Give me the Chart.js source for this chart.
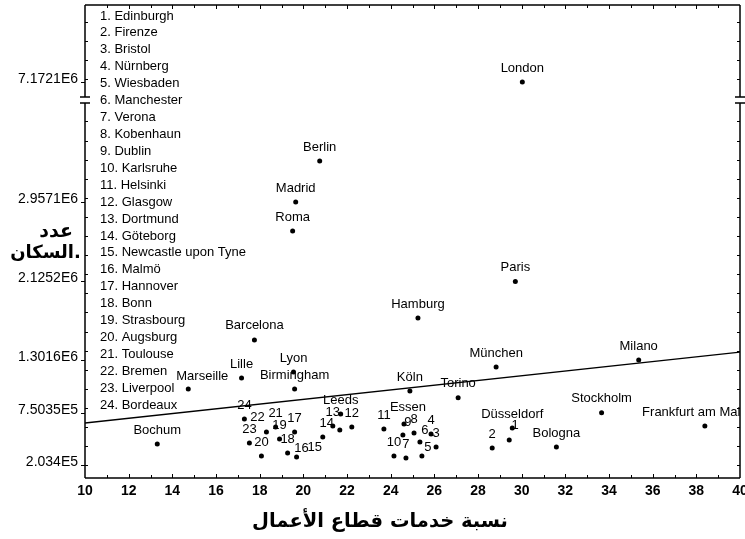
<!DOCTYPE html>
<html>
<head>
<meta charset="utf-8">
<script src="https://cdn.jsdelivr.net/npm/chart.js@4.4.1/dist/chart.umd.min.js"></script>
<style>
  html, body { margin: 0; padding: 0; background: #fff; }
  #wrap { width: 745px; height: 539px; }
</style>
</head>
<body>
<div id="wrap"><canvas id="cityChart"></canvas></div>
<script>
// cities shown by number (key in the top left corner)
const listedCities = ['Edinburgh', 'Firenze', 'Bristol', 'Nürnberg', 'Wiesbaden', 'Manchester', 'Verona', 'Kobenhaun',
    'Dublin', 'Karlsruhe', 'Helsinki', 'Glasgow', 'Dortmund', 'Göteborg', 'Newcastle upon Tyne', 'Malmö',
    'Hannover', 'Bonn', 'Strasbourg', 'Augsburg', 'Toulouse', 'Bremen', 'Liverpool', 'Bordeaux'];
const listedShare = [29.43, 28.65, 26.08, 25.85, 25.43, 25.34, 24.70, 25.07, 24.56, 24.15, 23.69, 22.22,
    21.35, 21.67, 20.89, 19.69, 19.60, 19.28, 18.91, 18.08, 18.73, 18.31, 17.53, 17.30];
const listedPopulation = [465000, 381000, 392000, 528000, 297000, 444000, 276000, 538000, 517000, 297000, 580000, 601000,
    612000, 570000, 496000, 287000, 549000, 329000, 475000, 297000, 601000, 549000, 434000, 685000];

// cities labelled with their name
const namedCities = ['London', 'Berlin', 'Madrid', 'Roma', 'Paris', 'Hamburg', 'Barcelona', 'Lille', 'Marseille', 'Lyon',
    'Birmingham', 'München', 'Köln', 'Torino', 'Leeds', 'Essen', 'Milano', 'Stockholm', 'Frankfurt am Main',
    'Bologna', 'Düsseldorf', 'Bochum'];
const namedShare = [30.03, 20.75, 19.65, 19.51, 29.71, 25.25, 17.76, 17.17, 14.73, 19.55,
    19.60, 28.83, 24.88, 27.09, 21.71, 24.61, 35.36, 33.66, 38.39,
    31.59, 29.57, 13.31];
const namedPopulation = [7172100, 3386000, 2957100, 2653000, 2125200, 1742000, 1513000, 1114000, 999000, 1177000,
    999000, 1229000, 978000, 906000, 737000, 632000, 1301600, 750350, 612000,
    392000, 591000, 423000];

// fitted line
const fitShare = [10, 40];
const fitPopulation = [643000, 1386000];

const yTickValues = [203400, 750350, 1301600, 2125200, 2957100, 7172100];

// the y axis is cut: a long lower part and a short upper part for London
const yLow = [67000, 3994000];
const yHigh = [7015000, 7978000];
const breakGap = 6;

// nudges for labels that sit off the usual spot above the dot
const labelShift = {
    '22': [-9, -1], '16': [5, 5], '15': [-8, 24], '14': [-13, 7], '9': [5, 1], '6': [5, 2], '5': [6, 5], '1': [6, -1],
    'Essen': [4, -3], 'Marseille': [14, 1], 'Frankfurt am Main': [-10, 0]
};

const FONT = '"Liberation Sans", Arial, sans-serif';
const ARABIC = '"DejaVu Sans", sans-serif';

class BrokenLinearScale extends Chart.LinearScale {
    unitPx() {
        const span = (yLow[1] - yLow[0]) + (yHigh[1] - yHigh[0]);
        return (this.bottom - this.top - breakGap) / span;
    }
    getPixelForValue(v) {
        const k = this.unitPx();
        if (v < yHigh[0]) return this.bottom - (v - yLow[0]) * k;
        return this.top + (yHigh[1] - v) * k;
    }
    getValueForPixel(p) {
        const k = this.unitPx();
        const upperEnd = this.top + (yHigh[1] - yHigh[0]) * k;
        if (p <= upperEnd) return yHigh[1] - (p - this.top) / k;
        return yLow[0] + (this.bottom - p) / k;
    }
}
BrokenLinearScale.id = 'brokenLinear';
BrokenLinearScale.defaults = Chart.LinearScale.defaults;
Chart.register(BrokenLinearScale);

function sciLabel(v) {
    const [m, e] = Number(v).toExponential(4).split('e');
    return m.replace(/\.?0+$/, '') + 'E' + parseInt(e, 10);
}

const pointLabels = {
    id: 'pointLabels',
    afterDatasetsDraw(chart) {
        const { ctx, chartArea: a } = chart;
        ctx.save();
        ctx.beginPath();
        ctx.rect(a.left, a.top, a.right - a.left, a.bottom - a.top);
        ctx.clip();
        ctx.fillStyle = '#000';
        ctx.font = '13px ' + FONT;
        ctx.textAlign = 'center';
        ctx.textBaseline = 'middle';
        chart.data.datasets.forEach((ds, di) => {
            if (!ds.pointNames) return;
            chart.getDatasetMeta(di).data.forEach((pt, i) => {
                const name = ds.pointNames[i];
                const s = labelShift[name] || [0, 0];
                ctx.fillText(name, pt.x + s[0], pt.y - 14 + s[1]);
            });
        });
        ctx.restore();
    }
};

const frame = {
    id: 'frame',
    afterDraw(chart) {
        const { ctx, chartArea: a, scales: { x, y } } = chart;
        const upperEnd = y.getPixelForValue(yHigh[0]);
        const lowerEnd = y.getPixelForValue(yLow[1]);
        ctx.save();
        ctx.strokeStyle = '#000';
        ctx.lineWidth = 1.5;
        ctx.beginPath();
        ctx.moveTo(a.left, a.top); ctx.lineTo(a.right, a.top);
        ctx.moveTo(a.left, a.bottom); ctx.lineTo(a.right, a.bottom);
        [a.left, a.right].forEach(px => {
            ctx.moveTo(px, a.top); ctx.lineTo(px, upperEnd);
            ctx.moveTo(px, lowerEnd); ctx.lineTo(px, a.bottom);
            ctx.moveTo(px - 5, upperEnd); ctx.lineTo(px + 5, upperEnd);
            ctx.moveTo(px - 5, lowerEnd); ctx.lineTo(px + 5, lowerEnd);
        });
        ctx.stroke();

        ctx.lineWidth = 1;
        ctx.beginPath();
        for (let v = 11; v < 40; v++) {
            const px = Math.round(x.getPixelForValue(v)) + 0.5;
            const len = v % 2 === 0 ? 4 : 3;
            ctx.moveTo(px, a.bottom); ctx.lineTo(px, a.bottom - len);
            ctx.moveTo(px, a.top); ctx.lineTo(px, a.top + len);
        }
        const minor = [];
        for (let v = 200000; v < yLow[1]; v += 200000) minor.push(v);
        for (let v = 7200000; v < yHigh[1]; v += 200000) minor.push(v);
        minor.forEach(v => {
            const py = Math.round(y.getPixelForValue(v)) + 0.5;
            ctx.moveTo(a.left, py); ctx.lineTo(a.left + 3, py);
            ctx.moveTo(a.right, py); ctx.lineTo(a.right - 3, py);
        });
        yTickValues.forEach(v => {
            const py = Math.round(y.getPixelForValue(v)) + 0.5;
            ctx.moveTo(a.left - 4, py); ctx.lineTo(a.left, py);
        });
        ctx.stroke();

        // key of the numbered cities
        ctx.fillStyle = '#000';
        ctx.font = '13px ' + FONT;
        ctx.textAlign = 'left';
        ctx.textBaseline = 'middle';
        listedCities.forEach((c, i) => {
            ctx.fillText((i + 1) + '. ' + c, 100, 16 + i * 16.92);
        });

        // y axis title, written across in two lines
        ctx.direction = 'ltr';
        ctx.font = 'bold 19px ' + ARABIC;
        ctx.textAlign = 'right';
        ctx.fillText('عدد', 73, 232);
        ctx.font = 'bold 18px ' + ARABIC;
        ctx.fillText('السكان', 74, 253);
        ctx.textAlign = 'left';
        ctx.fillText('.', 74, 253);

        // x axis title
        ctx.font = 'bold 19.5px ' + ARABIC;
        ctx.textAlign = 'center';
        ctx.fillText('نسبة خدمات قطاع الأعمال', 380, 522);
        ctx.restore();
    }
};

new Chart(document.getElementById('cityChart'), {
    type: 'scatter',
    data: {
        datasets: [
            {
                data: namedShare.map((v, i) => ({ x: v, y: namedPopulation[i] })),
                pointNames: namedCities,
                pointRadius: 2.5,
                pointBackgroundColor: '#000',
                pointBorderWidth: 0
            },
            {
                data: listedShare.map((v, i) => ({ x: v, y: listedPopulation[i] })),
                pointNames: listedCities.map((c, i) => String(i + 1)),
                pointRadius: 2.5,
                pointBackgroundColor: '#000',
                pointBorderWidth: 0
            },
            {
                type: 'line',
                data: fitShare.map((v, i) => ({ x: v, y: fitPopulation[i] })),
                borderColor: '#000',
                borderWidth: 1.3,
                pointRadius: 0,
                fill: false
            }
        ]
    },
    options: {
        responsive: true,
        maintainAspectRatio: false,
        animation: false,
        layout: { padding: { top: 5, right: 5, left: 0, bottom: 0 } },
        plugins: { legend: { display: false }, tooltip: { enabled: false } },
        scales: {
            x: {
                type: 'linear',
                min: 10,
                max: 40,
                grid: { display: false, drawTicks: false },
                border: { display: false },
                ticks: {
                    stepSize: 2,
                    autoSkip: false,
                    maxRotation: 0,
                    padding: 5,
                    color: '#000',
                    font: { family: '"Liberation Sans Narrow", "Liberation Sans", Arial', size: 14, weight: 'bold' }
                },
                afterFit: s => { s.height = 61; s.paddingLeft = 0; s.paddingRight = 0; }
            },
            y: {
                type: 'brokenLinear',
                min: yLow[0],
                max: yHigh[1],
                grid: { display: false, drawTicks: false },
                border: { display: false },
                afterBuildTicks: s => { s.ticks = yTickValues.map(v => ({ value: v })); },
                ticks: {
                    autoSkip: false,
                    padding: 7,
                    labelOffset: -3,
                    color: '#000',
                    font: { family: FONT, size: 14 },
                    callback: v => sciLabel(v)
                },
                afterFit: s => { s.width = 85; s.paddingTop = 0; s.paddingBottom = 0; }
            }
        }
    },
    plugins: [pointLabels, frame]
});
</script>
</body>
</html>
